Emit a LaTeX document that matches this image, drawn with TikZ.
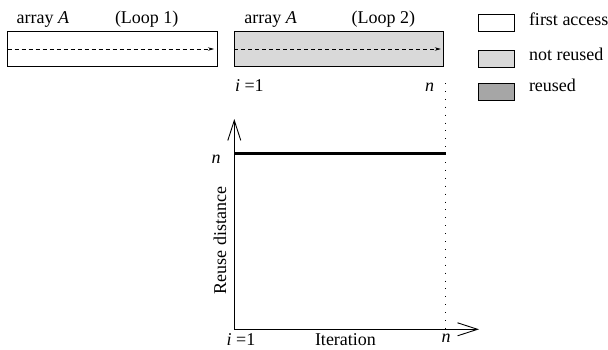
\documentclass[tikz,border=0pt]{standalone}
\usepackage{fontspec}
\setmainfont{Liberation Serif}
\usetikzlibrary{arrows.meta}
\definecolor{lightg}{gray}{0.85}
\definecolor{darkg}{gray}{0.65}
\begin{document}
\begin{tikzpicture}[x=1pt,y=-1pt,
  every node/.style={font=\fontsize{18}{20}\selectfont, inner sep=0pt, outer sep=0pt},
  arraybox/.style={draw, line width=0.9pt, minimum width=209.5pt, minimum height=35pt, anchor=north west},
  legbox/.style={draw, line width=0.9pt, minimum width=36pt, minimum height=17pt, anchor=north west},
  lbl/.style={anchor=base west},
  dasharrow/.style={dash pattern=on 4pt off 3pt, line width=0.7pt, -{Stealth[length=6pt,width=3.5pt]}},
  axisline/.style={line width=0.9pt, -{Straight Barb[length=20pt,width=13pt,line width=0.9pt]}},
  dotline/.style={line width=0.9pt, dash pattern=on 0.9pt off 7pt},
  thickline/.style={line width=3pt}]
\useasboundingbox (0,0) rectangle (608,349);

% arrays
\node[arraybox] (a1) at (7.5,31.5) {};
\node[arraybox, fill=lightg] (a2) at (234.3,31.5) {};
\draw[dasharrow] (a1.west) -- ([xshift=-3pt]a1.east);
\draw[dasharrow] (a2.west) -- ([xshift=-3pt]a2.east);

\node[lbl] (t1) at (16.7,23.3) {array \textit{A}};
\node[lbl] (t2) at (115,23.3) {(Loop 1)};
\node[lbl] (t3) at (244.3,23.3) {array \textit{A}};
\node[lbl] (t4) at (351.7,23.3) {(Loop 2)};
\node[lbl] (i1) at (235,91.7) {\textit{i} =1};
\node[lbl] (n1) at (425,91.7) {\textit{n}};

% legend
\node[legbox] (l1) at (478.3,14) {};
\node[legbox, fill=lightg] (l2) at (478.3,50) {};
\node[legbox, fill=darkg] (l3) at (478.3,83.5) {};
\node[lbl] (lt1) at (529,25) {first access};
\node[lbl] (lt2) at (529,60.7) {not reused};
\node[lbl] (lt3) at (529,91.7) {reused};

% graph
\coordinate (O) at (234.3,329.3);
\coordinate (ytop) at (234.3,119);
\coordinate (xend) at (479,329.3);
\coordinate (dtop) at (445.5,83);
\coordinate (dbot) at (445.5,329.3);
\coordinate (h1) at (234.3,153.3);
\coordinate (h2) at (445.5,153.3);
\draw[dotline] (dtop) -- (dbot);
\draw[axisline] (O) -- (ytop);
\draw[axisline] (O) -- (xend);
\draw[thickline] (h1) -- (h2);

\node[lbl] (ny) at (211.7,163) {\textit{n}};
\node[anchor=base, rotate=90] (rd) at (226,240.7) {Reuse distance};
\node[lbl] (i2) at (226.7,345) {\textit{i} =1};
\node[lbl] (it) at (315,345) {Iteration};
\node[lbl] (nx) at (441.7,342) {\textit{n}};
\end{tikzpicture}
\end{document}
